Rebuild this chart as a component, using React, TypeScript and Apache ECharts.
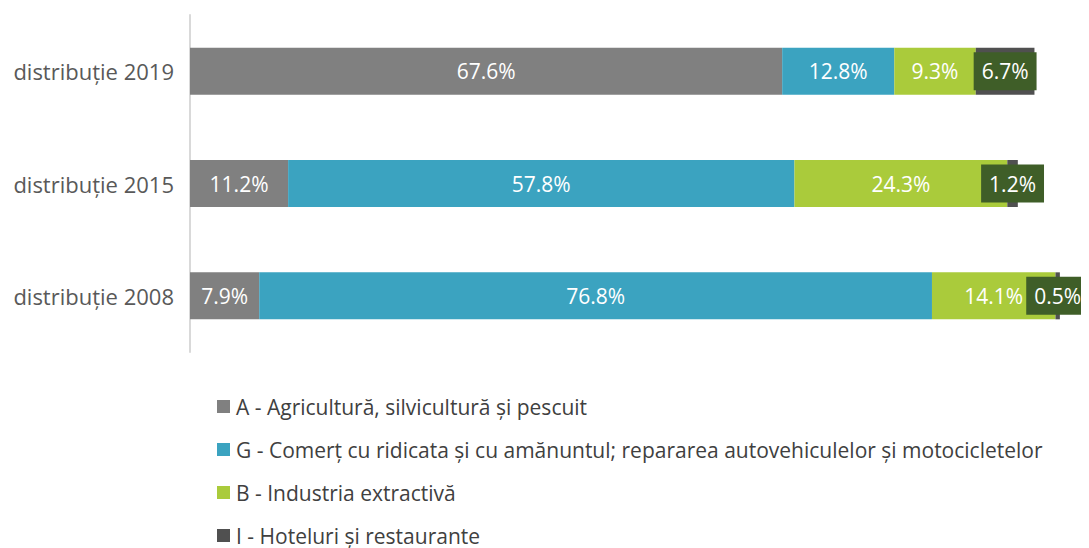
import React, { useEffect, useRef } from "react";
import * as echarts from "echarts";

const categories = ["distribuție 2019", "distribuție 2015", "distribuție 2008"];
const seriesNames = [
  "A - Agricultură, silvicultură și pescuit",
  "G - Comerț cu ridicata și cu amănuntul; repararea autovehiculelor și motocicletelor",
  "B - Industria extractivă",
  "I - Hoteluri și restaurante",
];
const agriculture = [67.6, 11.2, 7.9];
const commerce = [12.8, 57.8, 76.8];
const extractive = [9.3, 24.3, 14.1];
const hotels = [6.7, 1.2, 0.5];
const colors = ["#808080", "#3BA3C0", "#AACB3B", "#505050"];

const FONT = "'Open Sans', 'Noto Sans', sans-serif";

export default function App() {
  const ref = useRef<HTMLDivElement>(null);
  useEffect(() => {
    if (!ref.current) return;
    const chart = echarts.init(ref.current, undefined, { renderer: "svg" });
    const values = [agriculture, commerce, extractive, hotels];
    chart.setOption({
      animation: false,
      textStyle: { fontFamily: FONT },
      grid: { left: 182, top: 7, width: 876, height: 337, containLabel: false },
      xAxis: {
        type: "value",
        min: 0,
        max: 100,
        show: false,
      },
      yAxis: {
        type: "category",
        data: categories,
        inverse: true,
        axisLine: { show: true, lineStyle: { color: "#D9D9D9", width: 2 } },
        axisTick: { show: false },
        axisLabel: { color: "#595959", fontSize: 22, margin: 16, fontFamily: FONT },
      },
      legend: {
        orient: "vertical",
        left: 204,
        top: 383,
        height: 157,
        itemWidth: 13,
        itemHeight: 13,
        itemGap: 22,
        icon: "rect",
        textStyle: { color: "#404040", fontSize: 21, fontFamily: FONT, padding: [0, 0, 0, 1] },
        data: seriesNames,
      },
      series: seriesNames.map((name, i) => ({
        name,
        type: "bar",
        stack: "total",
        barWidth: 47,
        data: values[i],
        itemStyle: { color: colors[i] },
        label: {
          show: true,
          position: "inside",
          color: "#FFFFFF",
          fontSize: 21,
          fontFamily: FONT,
          formatter: (p: any) => p.value.toFixed(1) + "%",
          ...(i === 3
            ? { backgroundColor: "#3F5E28", padding: [9, 8, 8, 8] }
            : {}),
        },
      })),
    });
    return () => chart.dispose();
  }, []);
  return <div ref={ref} style={{ width: 1073, height: 540 }} />;
}
